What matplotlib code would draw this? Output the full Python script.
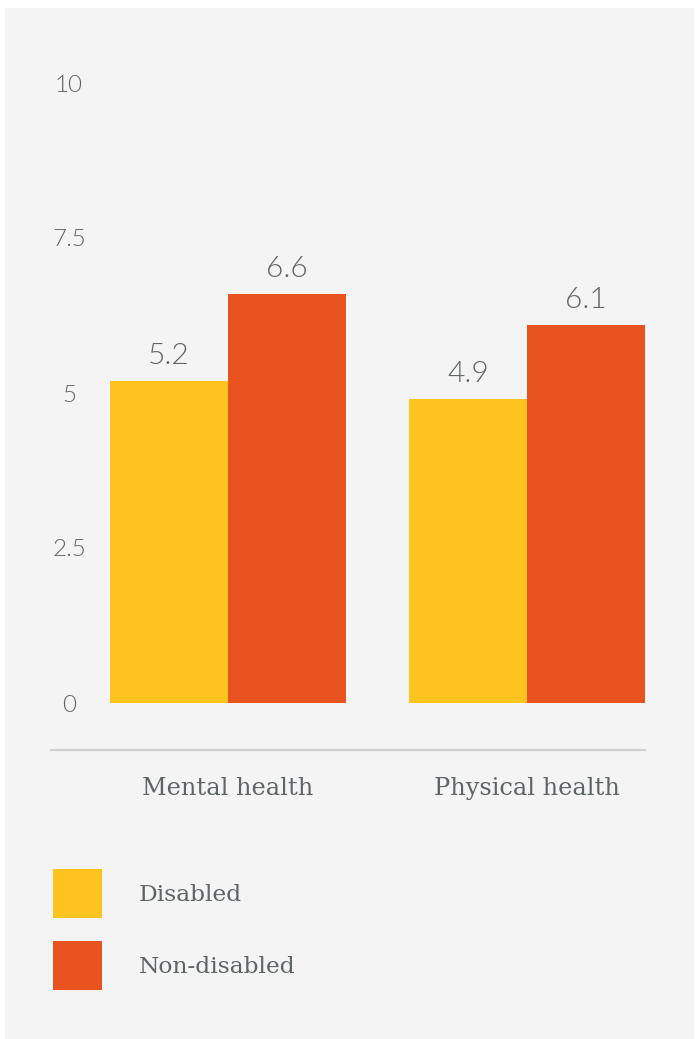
import matplotlib

matplotlib.use("Agg")
import matplotlib.pyplot as plt
from matplotlib import font_manager
from matplotlib.patches import Rectangle
import numpy as np

CATEGORIES = ["Mental health", "Physical health"]
SERIES = ["Disabled", "Non-disabled"]
DISABLED = [5.2, 4.9]
NON_DISABLED = [6.6, 6.1]
Y_TICKS = [0, 2.5, 5, 7.5, 10]
Y_TICK_LABELS = ["0", "2.5", "5", "7.5", "10"]

COLORS = ["#fdc420", "#e8531f"]
PANEL = "#f4f4f4"
TEXT = "#5f6466"
LABEL_FONT = "DejaVu Serif"

W, H = 696, 1039
PT = 72 / 100  # pixels -> points at dpi 100


def lato_light(size):
    # prefer the actual Lato Light file; fall back to regular Lato
    for f in font_manager.findSystemFonts():
        name = f.split("/")[-1].lower()
        if name.startswith("lato") and "light" in name and "italic" not in name:
            return font_manager.FontProperties(fname=f, size=size)
    return font_manager.FontProperties(family="Lato", size=size)


fig = plt.figure(figsize=(W / 100, H / 100), dpi=100)
fig.patch.set_facecolor("white")

# grey panel behind everything
fig.add_artist(Rectangle((5 / W, 0), (694 - 5) / W, (H - 8) / H,
                         transform=fig.transFigure, facecolor=PANEL,
                         edgecolor="none", zorder=0))

# axes: x 51..645 px, y 83..703 px
ax = fig.add_axes([51 / W, (H - 703) / H, (645 - 51) / W, (703 - 83) / H])
ax.set_facecolor("none")
ax.set_ylim(0, 10)
ax.set_xlim(-0.592, 1.395)

x = np.arange(len(CATEGORIES))
bw = 118 / 299
bars1 = ax.bar(x - bw / 2, DISABLED, width=bw, color=COLORS[0], linewidth=0)
bars2 = ax.bar(x + bw / 2, NON_DISABLED, width=bw, color=COLORS[1], linewidth=0)

for bars, vals in [(bars1, DISABLED), (bars2, NON_DISABLED)]:
    for b, v in zip(bars, vals):
        ax.annotate(f"{v}", (b.get_x() + b.get_width() / 2, v),
                    xytext=(0, 12), textcoords="offset pixels",
                    ha="center", va="bottom", color=TEXT,
                    fontproperties=lato_light(21.5))

for side in ["top", "right", "left"]:
    ax.spines[side].set_visible(False)
ax.spines["bottom"].set_position(("outward", 47 * PT))
ax.spines["bottom"].set_color("#d3d0d0")
ax.spines["bottom"].set_linewidth(1.6)

ax.tick_params(axis="y", length=0, pad=-18 * PT)
ax.tick_params(axis="x", length=0, pad=27 * PT)

ax.set_yticks(Y_TICKS)
ax.set_yticklabels(Y_TICK_LABELS, fontproperties=lato_light(17.5),
                   color=TEXT, ha="center")
ax.set_xticks(x)
ax.set_xticklabels(CATEGORIES, family=LABEL_FONT, fontsize=17.3, color=TEXT)

# legend drawn as squares with labels
for i, (name, col) in enumerate(zip(SERIES, COLORS)):
    top = 869 + i * 72
    fig.add_artist(Rectangle((53 / W, (H - top - 49) / H), 49 / W, 49 / H,
                             transform=fig.transFigure, facecolor=col,
                             edgecolor="none"))
    fig.text(139 / W, (H - top - 26) / H, name, ha="left", va="center",
             family=LABEL_FONT, fontsize=16.8, color=TEXT)

fig.savefig("out.png", dpi=100, facecolor="white")
